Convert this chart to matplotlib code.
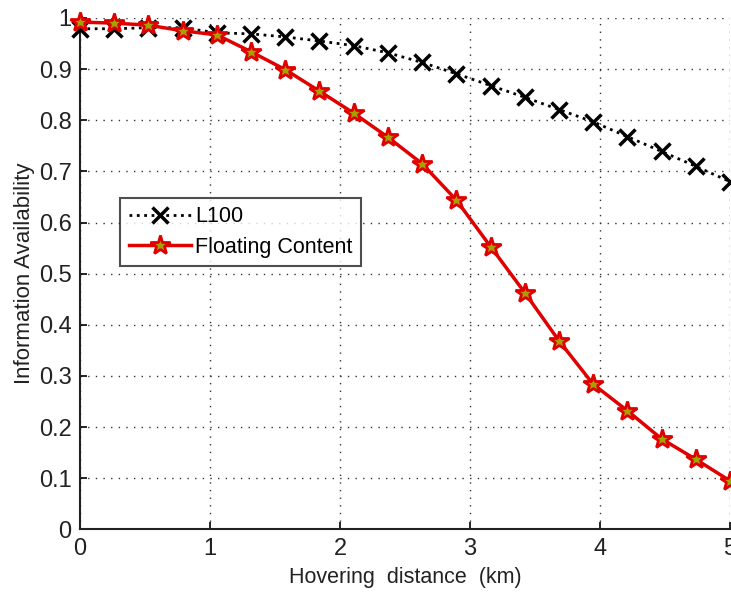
import matplotlib
matplotlib.use('Agg')
import matplotlib.pyplot as plt

# hovering distance (km), 20 sample points
dist = [0.0, 0.263, 0.526, 0.789, 1.053, 1.316, 1.579, 1.842, 2.105, 2.368,
        2.632, 2.895, 3.158, 3.421, 3.684, 3.947, 4.211, 4.474, 4.737, 5.0]
l100 = [0.979, 0.979, 0.981, 0.981, 0.971, 0.969, 0.963, 0.955, 0.946, 0.932,
        0.913, 0.891, 0.868, 0.845, 0.821, 0.797, 0.768, 0.739, 0.710, 0.680]
floating = [0.992, 0.990, 0.986, 0.975, 0.967, 0.934, 0.899, 0.857, 0.814, 0.767,
            0.715, 0.644, 0.553, 0.463, 0.369, 0.284, 0.232, 0.177, 0.137, 0.095]

xticks = [0, 1, 2, 3, 4, 5]
yticks = [0, 0.1, 0.2, 0.3, 0.4, 0.5, 0.6, 0.7, 0.8, 0.9, 1]
ytick_labels = ['0', '0.1', '0.2', '0.3', '0.4', '0.5', '0.6', '0.7', '0.8', '0.9', '1']

tick_font = ['Liberation Sans Narrow', 'Liberation Sans', 'DejaVu Sans']
label_font = ['Liberation Sans', 'DejaVu Sans']

fig = plt.figure(figsize=(7.31, 5.92), dpi=100)
ax = fig.add_axes([80 / 731, 62.6 / 592, 650 / 731, 511.4 / 592])

ax.plot(dist, l100, color='black', linestyle=':', linewidth=2,
        marker='x', markersize=11, markeredgewidth=2.5, clip_on=False,
        label='L100', zorder=3)
ax.plot(dist, floating, color='#e00000', linestyle='-', linewidth=2.5,
        marker='*', markersize=15, markerfacecolor='#a8a000',
        markeredgecolor='#e00000', markeredgewidth=2, clip_on=False,
        label='Floating Content', zorder=4)

ax.set_xlim(0, 5)
ax.set_ylim(0, 1)
ax.set_xticks(xticks)
ax.set_yticks(yticks)
ax.set_yticklabels(ytick_labels)
for t in ax.get_xticklabels() + ax.get_yticklabels():
    t.set_family(tick_font)
    t.set_fontsize(17)
    t.set_color('#222222')
ax.tick_params(direction='in', length=5, width=1.2, pad=6)

ax.grid(True, color='#333333', linestyle=(0, (1, 4.5)), linewidth=1)
ax.set_axisbelow(True)

for s in ['top', 'right']:
    ax.spines[s].set_visible(False)
for s in ['left', 'bottom']:
    ax.spines[s].set_linewidth(1.5)
    ax.spines[s].set_color('#222222')

ax.set_xlabel('Hovering  distance  (km)', family=label_font, fontsize=15.5,
              color='#222222', labelpad=5)
ax.set_ylabel('Information Availability', family=label_font, fontsize=16,
              color='#222222', labelpad=3)

leg = ax.legend(loc='upper left', bbox_to_anchor=(0.0615, 0.649),
                borderaxespad=0, fancybox=False, frameon=True,
                prop={'family': label_font, 'size': 15.5},
                handlelength=2.9, numpoints=1, borderpad=0.4,
                labelspacing=0.45, handletextpad=0.2)
leg.get_frame().set_edgecolor('#222222')
leg.get_frame().set_linewidth(1.5)

fig.savefig('out.png', dpi=100)
